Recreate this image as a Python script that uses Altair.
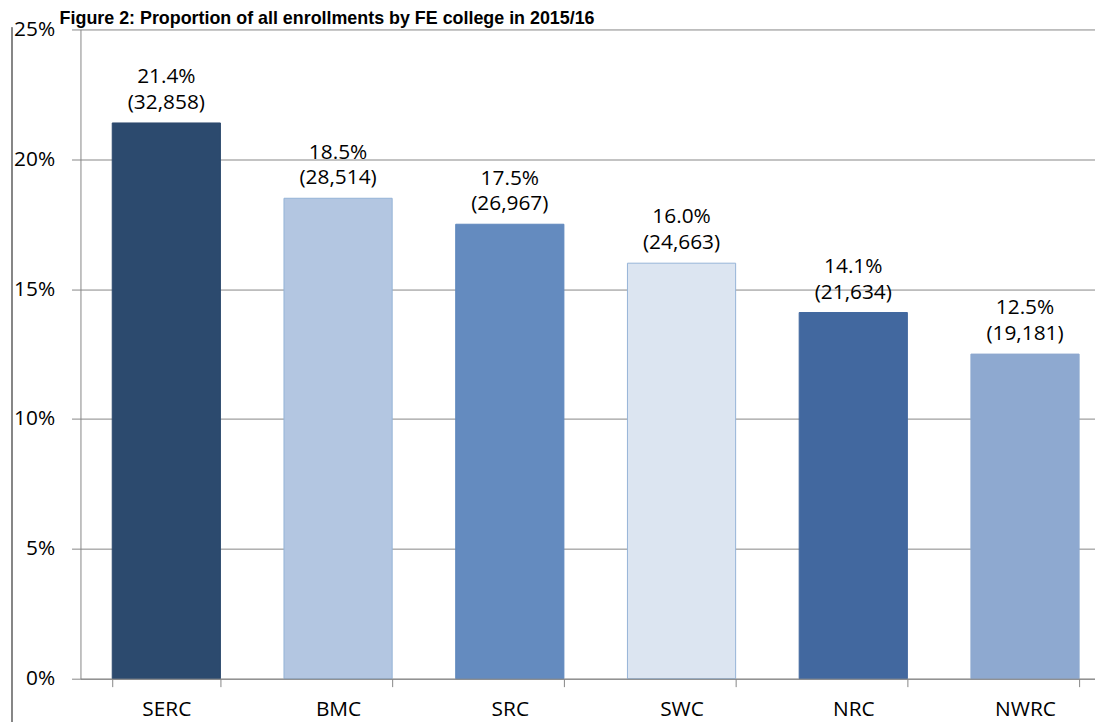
import altair as alt
import pandas as pd

colleges = ["SERC", "BMC", "SRC", "SWC", "NRC", "NWRC"]
shares = [0.214, 0.185, 0.175, 0.160, 0.141, 0.125]
enrolments = [32858, 28514, 26967, 24663, 21634, 19181]
fills = ["#2C4A6E", "#B3C6E1", "#648BBF", "#DCE5F1", "#42689F", "#8EA9D0"]
strokes = ["#2C4A6E", "#95B3D7", "#5F88BD", "#95B3D7", "#42689F", "#8EA9D0"]
y_ticks = [0, 0.05, 0.10, 0.15, 0.20, 0.25]
title_text = "Figure 2: Proportion of all enrollments by FE college in 2015/16"

df = pd.DataFrame({
    "college": colleges,
    "share": shares,
    "count": enrolments,
    "fill": fills,
    "stroke": strokes,
})
df["label"] = [f"{s * 100:.1f}%\n({c:,})" for s, c in zip(shares, enrolments)]
title_df = pd.DataFrame({"title": [title_text]})

GRAY = "#868686"
FONT = "Open Sans"

x_enc = alt.X(
    "college:N",
    sort=colleges,
    scale=alt.Scale(range=[0, 1038], paddingInner=0.37, paddingOuter=0.185),
    axis=alt.Axis(
        title=None, labelAngle=0, tickBand="extent", tickSize=8, labelPadding=12,
        domainColor=GRAY, tickColor=GRAY, labelFont=FONT, labelFontSize=21,
        labelColor="black", grid=False, zindex=1,
    ),
)
y_enc = alt.Y(
    "share:Q",
    scale=alt.Scale(domain=[0, 0.25], nice=False),
    axis=alt.Axis(
        values=y_ticks, format=".0%", title=None, tickSize=9, labelPadding=17,
        gridColor=GRAY, domainColor=GRAY, tickColor=GRAY, labelFont=FONT,
        labelFontSize=21, labelColor="black",
    ),
)

bars = alt.Chart(df).mark_bar(strokeWidth=1).encode(
    x=x_enc,
    y=y_enc,
    color=alt.Color("fill:N", scale=None),
    stroke=alt.Stroke("stroke:N", scale=None),
)

labels = alt.Chart(df).mark_text(
    baseline="bottom", dy=-36, lineBreak="\n", lineHeight=26,
    font=FONT, fontSize=21, color="black",
).encode(x=x_enc, y=y_enc, text="label:N")

frame = alt.Chart(df).mark_rule(color=GRAY, strokeWidth=1).encode(
    x=alt.value(-69), y=alt.value(-2), y2=alt.value(700)
)

title = alt.Chart(title_df).mark_text(
    align="left", baseline="alphabetic", font="Liberation Sans",
    fontSize=18, fontWeight="bold", color="black",
).encode(x=alt.value(-21), y=alt.value(-6), text="title:N")

chart = alt.layer(frame, bars, labels, title).properties(
    width=1022,
    height=654,
    autosize=alt.AutoSizeParams(type="none"),
    padding={"left": 73, "top": 19, "right": 0, "bottom": 41},
).configure_view(strokeWidth=0)

chart.save("out.html", embed_options={"renderer": "svg", "actions": False})
